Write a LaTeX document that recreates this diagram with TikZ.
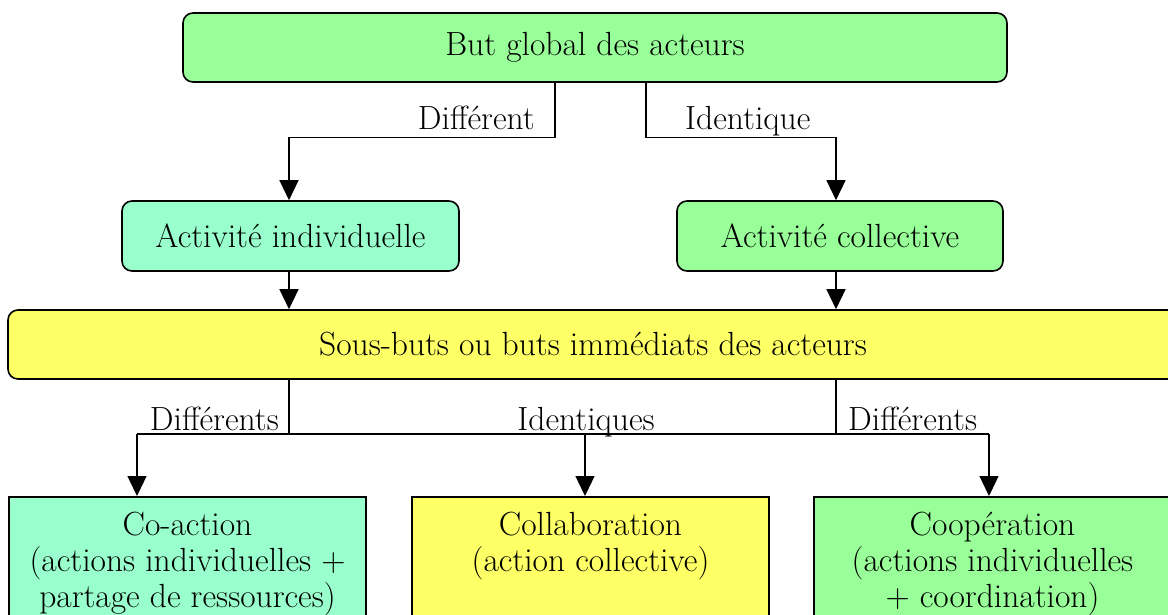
\documentclass[tikz,border=0pt]{standalone}
\usepackage{fontspec}
\usetikzlibrary{arrows.meta}
\definecolor{vert}{HTML}{99FF99}
\definecolor{aqua}{HTML}{99FFCC}
\definecolor{jaune}{HTML}{FFFF66}
\begin{document}
\begin{tikzpicture}[x=1pt,y=-1pt,
  txt/.style={font=\fontsize{33.5}{36}\selectfont, inner sep=0pt},
  rbox/.style={draw, line width=1.6pt, rounded corners=10pt, inner sep=0pt, font=\fontsize{33.5}{36}\selectfont},
  sbox/.style={draw, line width=1.6pt, inner sep=0pt, minimum width=357pt, minimum height=130pt, anchor=north},
  conn/.style={line width=1.3pt},
  arr/.style={conn, -{Triangle[length=20pt,width=19pt]}}]
\useasboundingbox (0,0) rectangle (1168,614);
% boxes
\node[rbox, fill=vert, minimum width=824pt, minimum height=69pt] (top) at (595,47.5) {But global des acteurs};
\node[rbox, fill=aqua, minimum width=337pt, minimum height=70pt] (ind) at (290.5,236) {Activité individuelle};
\node[rbox, fill=vert, minimum width=326pt, minimum height=70pt] (coll) at (840,236) {Activité collective};
\node[rbox, fill=jaune, minimum width=1170pt, minimum height=69pt] (sub) at (593,344.5) {Sous-buts ou buts immédiats des acteurs};
\node[sbox, fill=aqua] (coact) at (187.5,496) {};
\node[sbox, fill=jaune] (collab) at (590.5,496) {};
\node[sbox, fill=vert] (coop) at (992.5,496) {};
\node[txt, align=center, anchor=north] (tcoact) at ([yshift=-15.5pt]coact.north) {Co-action\\(actions individuelles +\\partage de ressources)};
\node[txt, align=center, anchor=north] (tcollab) at ([yshift=-15.5pt]collab.north) {Collaboration\\(action collective)};
\node[txt, align=center, anchor=north] (tcoop) at ([yshift=-15.5pt]coop.north) {Coopération\\(actions individuelles\\+ coordination)};
% connectors, top level
\draw[arr] ([xshift=-40pt]top.south) -- ++(0,55) -| ([xshift=-1.5pt]ind.north);
\draw[arr] ([xshift=51pt]top.south) -- ++(0,55) -| ([xshift=-4pt]coll.north);
\node[txt, anchor=base east] (ldiff) at (535,129) {Différent};
\node[txt, anchor=base west] (lid) at (685,129) {Identique};
% to sub-goals
\draw[arr] ([xshift=-1.5pt]ind.south) -- ([xshift=-1.5pt]ind.south |- sub.north);
\draw[arr] ([xshift=-4pt]coll.south) -- ([xshift=-4pt]coll.south |- sub.north);
% bus
\coordinate (bus) at (0,434);
\draw[conn] ([xshift=-1.5pt]ind.south |- sub.south) -- ([xshift=-1.5pt]ind.south |- bus);
\draw[conn] ([xshift=-4pt]coll.south |- sub.south) -- ([xshift=-4pt]coll.south |- bus);
\draw[conn] ([xshift=-50.5pt]coact.north |- bus) -- ([xshift=-3.5pt]coop.north |- bus);
\draw[arr] ([xshift=-50.5pt]coact.north |- bus) -- ([xshift=-50.5pt]coact.north);
\draw[arr] ([xshift=-5.5pt]collab.north |- bus) -- ([xshift=-5.5pt]collab.north);
\draw[arr] ([xshift=-3.5pt]coop.north |- bus) -- ([xshift=-3.5pt]coop.north);
\node[txt, anchor=base east] (ldiffsa) at (279,430) {Différents};
\node[txt, anchor=base] (lids) at (586,430) {Identiques};
\node[txt, anchor=base west] (ldiffsb) at (848,430) {Différents};
\end{tikzpicture}
\end{document}
